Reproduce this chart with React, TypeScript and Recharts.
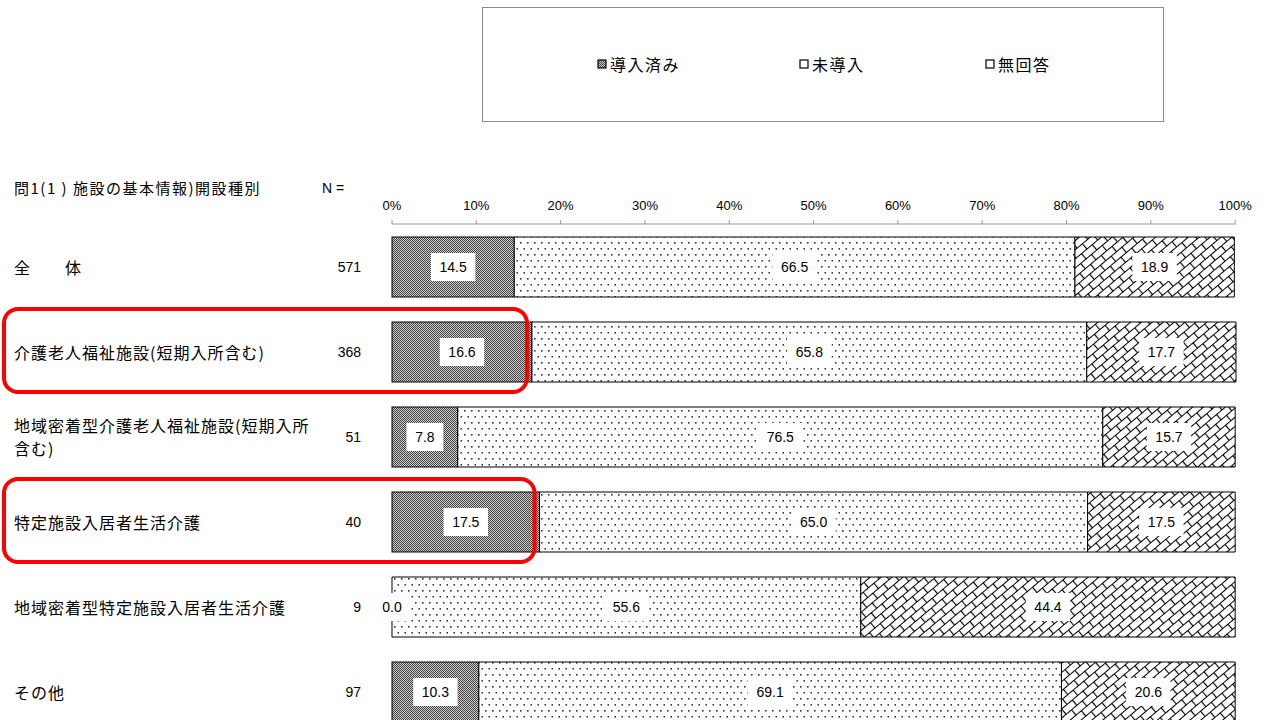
import { BarChart, Bar, XAxis, YAxis, LabelList } from 'recharts';

const categories = [
  '全　　体',
  '介護老人福祉施設(短期入所含む)',
  '地域密着型介護老人福祉施設(短期入所含む)',
  '特定施設入居者生活介護',
  '地域密着型特定施設入居者生活介護',
  'その他',
];
const sampleSizes = [571, 368, 51, 40, 9, 97];
const introduced = [14.5, 16.6, 7.8, 17.5, 0.0, 10.3];
const notIntroduced = [66.5, 65.8, 76.5, 65.0, 55.6, 69.1];
const noAnswer = [18.9, 17.7, 15.7, 17.5, 44.4, 20.6];
const seriesNames = ['導入済み', '未導入', '無回答'];
const xTicks = [0, 10, 20, 30, 40, 50, 60, 70, 80, 90, 100];
const highlighted = [categories[1], categories[3]];
const headerTitle = '問1(1 ) 施設の基本情報)開設種別';
const headerN = 'N =';

const data = categories.map((name, i) => ({
  name,
  n: sampleSizes[i],
  introduced: introduced[i],
  notIntroduced: notIntroduced[i],
  noAnswer: noAnswer[i],
}));

const JP = "'Noto Sans CJK JP', 'Liberation Sans', sans-serif";
const NUM = "'Liberation Sans', 'Noto Sans CJK JP', sans-serif";
const WRAP_AT = 18;

function ValueLabel(props: any) {
  const { x, y, width, height, value } = props;
  const cx = Number(x) + Number(width) / 2;
  const cy = Number(y) + Number(height) / 2;
  const text = Number(value).toFixed(1);
  const w = text.length * 7.6 + 14;
  return (
    <g>
      <rect x={cx - w / 2} y={cy - 14} width={w} height={28} fill="#fff" />
      <text x={cx} y={cy} textAnchor="middle" dominantBaseline="central" fontSize={14} fontFamily={NUM} fill="#000">
        {text}
      </text>
    </g>
  );
}

function FirstShape(props: any) {
  const { x, y, width, height, payload } = props;
  const mark = highlighted.includes(payload.name);
  return (
    <g>
      <rect x={x} y={y} width={width} height={height} fill="url(#pChecker)" stroke="#000" strokeWidth={1} />
      {mark && (
        <rect
          x={4}
          y={y - 13}
          width={x + width - 9}
          height={height + 23}
          rx={14}
          fill="none"
          stroke="#ff0000"
          strokeWidth={4}
        />
      )}
    </g>
  );
}

function CategoryTick(props: any) {
  const { y, payload } = props;
  const name: string = payload.value;
  const row = data[payload.index] ?? data.find(d => d.name === name);
  const lines = name.length > WRAP_AT ? [name.slice(0, WRAP_AT), name.slice(WRAP_AT)] : [name];
  return (
    <g>
      {lines.map((line, i) => (
        <text
          key={i}
          x={14}
          y={y + (i - (lines.length - 1) / 2) * 23}
          dominantBaseline="central"
          fontSize={16}
          letterSpacing={1}
          fontFamily={JP}
          fill="#000"
        >
          {line}
        </text>
      ))}
      <text x={361} y={y} textAnchor="end" dominantBaseline="central" fontSize={14} fontFamily={NUM} fill="#000">
        {row ? row.n : ''}
      </text>
    </g>
  );
}

const legendFills = ['url(#pChecker)', '#fff', '#fff'];
const legendLefts = [597, 799, 985];

export default function App() {
  return (
    <div style={{ position: 'absolute', left: 0, top: 0, width: 1264, height: 720, overflow: 'hidden', background: '#fff' }}>
      <div
        style={{
          position: 'absolute',
          left: 482,
          top: 7,
          width: 682,
          height: 115,
          border: '1px solid #8c8c8c',
          boxSizing: 'border-box',
        }}
      />
      {seriesNames.map((s, i) => (
        <div
          key={s}
          style={{
            position: 'absolute',
            left: legendLefts[i],
            top: 53,
            height: 22,
            display: 'flex',
            alignItems: 'center',
            fontFamily: JP,
            fontSize: 16,
            letterSpacing: 1.5,
          }}
        >
          <svg width={12} height={11} style={{ marginRight: 1 }}>
            <rect x={1} y={1} width={8} height={8} fill={legendFills[i]} stroke="#000" strokeWidth={1.2} />
          </svg>
          {s}
        </div>
      ))}
      <div style={{ position: 'absolute', left: 14, top: 178, fontFamily: JP, fontSize: 15, letterSpacing: 1.5, lineHeight: '20px' }}>
        {headerTitle}
      </div>
      <div style={{ position: 'absolute', left: 322, top: 178, fontFamily: NUM, fontSize: 14, lineHeight: '20px' }}>
        {headerN}
      </div>
      <BarChart
        width={1264}
        height={740}
        data={data}
        layout="vertical"
        barSize={60}
        margin={{ top: 180, right: 28, bottom: 6, left: 0 }}
        style={{ position: 'absolute', left: 0, top: 0 }}
      >
        <defs>
          <pattern id="pChecker" width={2} height={2} patternUnits="userSpaceOnUse">
            <rect width={2} height={2} fill="#cfcfcf" />
            <rect x={0} y={0} width={1} height={1} fill="#404040" />
            <rect x={1} y={1} width={1} height={1} fill="#404040" />
          </pattern>
          <pattern id="pDots" width={7} height={12} patternUnits="userSpaceOnUse">
            <rect width={7} height={12} fill="#fff" />
            <rect x={2} y={2} width={1.6} height={1.6} fill="#333" />
            <rect x={5.5} y={8} width={1.6} height={1.6} fill="#333" />
          </pattern>
          <pattern id="pBrick" width={14} height={14} patternUnits="userSpaceOnUse" patternTransform="rotate(-40)">
            <rect width={14} height={14} fill="#fff" />
            <path d="M0 0.5 H14 M0 7.5 H14 M0.5 0.5 V7.5 M7.5 7.5 V14.5" stroke="#000" strokeWidth={1.2} fill="none" />
          </pattern>
        </defs>
        <XAxis
          type="number"
          orientation="top"
          domain={[0, 100]}
          ticks={xTicks}
          height={44}
          tickFormatter={(v: number) => `${v}%`}
          tick={{ fontSize: 13, fill: '#000', fontFamily: NUM }}
          stroke="#999"
          tickSize={4}
          tickMargin={10}
        />
        <YAxis
          type="category"
          dataKey="name"
          width={392}
          axisLine={false}
          tickLine={false}
          tick={<CategoryTick />}
          interval={0}
        />
        <Bar dataKey="introduced" name={seriesNames[0]} stackId="a" shape={<FirstShape />} isAnimationActive={false}>
          <LabelList dataKey="introduced" content={<ValueLabel />} />
        </Bar>
        <Bar dataKey="notIntroduced" name={seriesNames[1]} stackId="a" fill="url(#pDots)" stroke="#000" strokeWidth={1} isAnimationActive={false}>
          <LabelList dataKey="notIntroduced" content={<ValueLabel />} />
        </Bar>
        <Bar dataKey="noAnswer" name={seriesNames[2]} stackId="a" fill="url(#pBrick)" stroke="#000" strokeWidth={1} isAnimationActive={false}>
          <LabelList dataKey="noAnswer" content={<ValueLabel />} />
        </Bar>
      </BarChart>
    </div>
  );
}
